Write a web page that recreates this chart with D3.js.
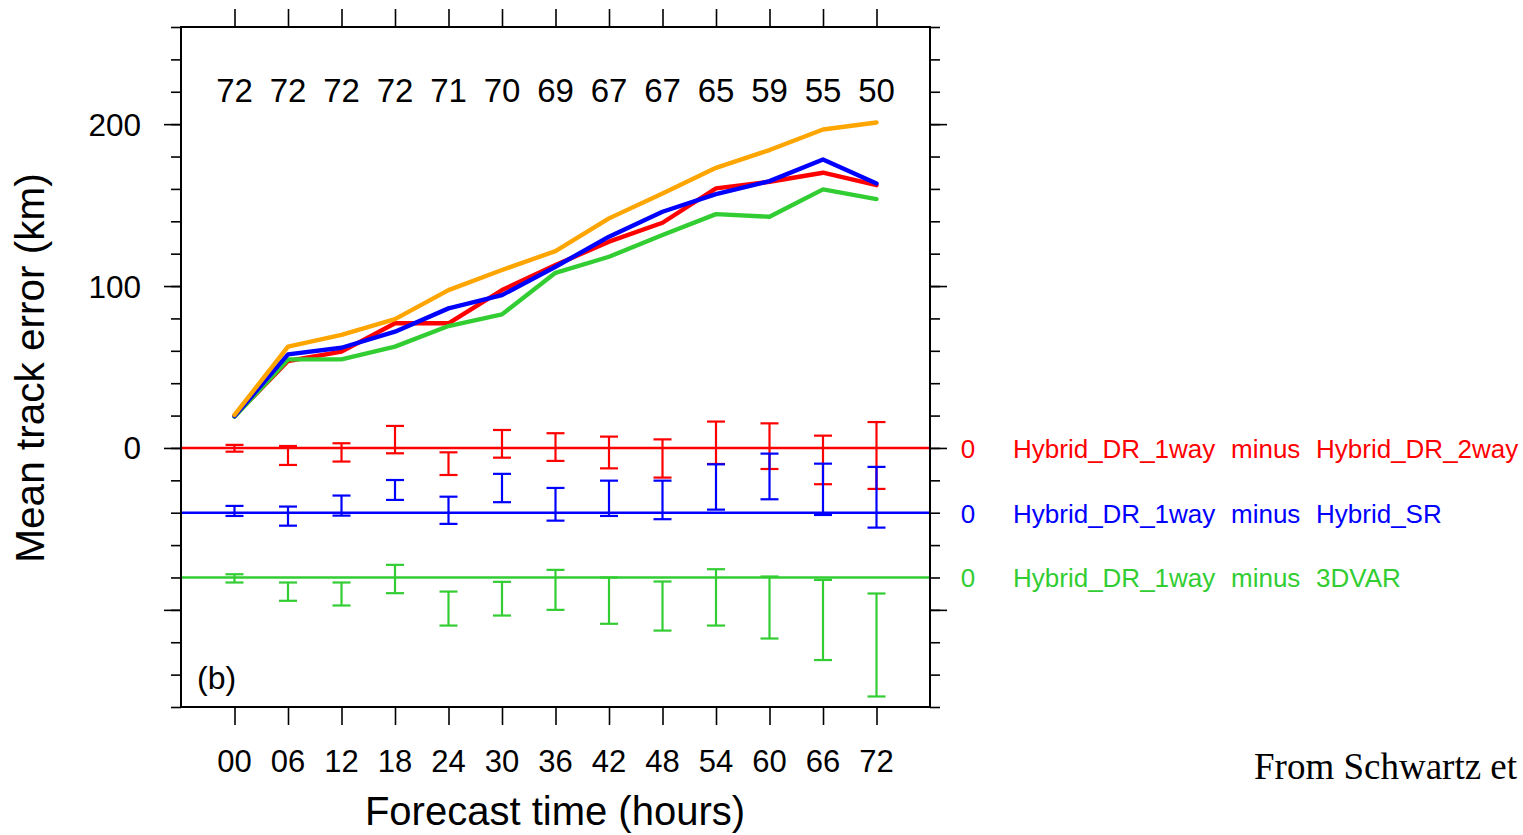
<!DOCTYPE html>
<html><head><meta charset="utf-8">
<script src="https://cdn.jsdelivr.net/npm/d3@7/dist/d3.min.js"></script>
<style>
body{margin:0;background:#fff;}
svg{display:block;}
text{font-family:"Liberation Sans",Arial,Helvetica,sans-serif;}
</style>
</head><body>
<svg id="chart" width="1523" height="835"></svg>
<script>
// ---------------- data ----------------
const hours = [0,6,12,18,24,30,36,42,48,54,60,66,72];
const hourLabels = ["00","06","12","18","24","30","36","42","48","54","60","66","72"];
const sampleCounts = [72,72,72,72,71,70,69,67,67,65,59,55,50];

const orangeTrack = [20.4,62.6,69.8,79.6,97.5,109.9,121.6,141.8,157.2,173.0,184.0,196.7,201.0];
const redTrack    = [19.7,53.7,59.5,77.0,77.0,97.5,113.0,127.4,139.1,160.3,164.4,170.0,162.3];
const blueTrack   = [19.7,57.8,61.9,71.8,86.2,94.4,111.9,130.5,145.9,156.8,164.8,178.2,163.4];
const greenTrack  = [19.3,54.7,54.7,62.6,75.3,82.5,108.2,118.1,131.5,144.4,142.8,159.7,153.7];

const redDiffLow    = [-2.3,-10.5,-8.4,-3.3,-16.7,-6.0,-8.0,-12.6,-18.3,-9.9,-13.0,-22.4,-25.3];
const redDiffHigh   = [1.9,1.2,2.9,13.6,-2.7,11.1,9.1,7.0,5.3,16.3,15.2,7.6,16.0];
const blueDiffLow   = [-2.0,-8.0,-1.8,7.9,-6.9,6.5,-4.9,-2.0,-4.0,1.9,8.3,-1.4,-9.2];
const blueDiffHigh  = [4.2,3.8,10.6,20.2,9.9,24.0,15.3,19.8,19.8,29.9,36.5,30.3,28.3];
const greenDiffLow  = [-3.1,-14.4,-17.3,-9.7,-29.7,-23.5,-20.0,-28.6,-32.8,-29.7,-37.7,-51.0,-73.5];
const greenDiffHigh = [2.0,-3.1,-3.1,7.8,-8.7,-2.7,4.7,0.0,-2.5,5.1,0.6,-1.5,-9.9];

const diffOffsets = [0,-40,-80];
const diffZeroLabels = ["0","0","0"];
const diffNames = [
  ["Hybrid_DR_1way","minus","Hybrid_DR_2way"],
  ["Hybrid_DR_1way","minus","Hybrid_SR"],
  ["Hybrid_DR_1way","minus","3DVAR"]
];
const yMajorTicks = [-100,0,100,200];
const yTickLabels = [null,"0","100","200"];
const yMinorTicks = d3.range(-160,261,20);

// ---------------- layout ----------------
const svg = d3.select("#chart");
const L = 181, R = 930, T = 27, B = 707;
const x = d3.scaleLinear().domain([-6,78]).range([L,R]);
const y = d3.scaleLinear().domain([-160,260]).range([B,T]);

const C = {orange:"#ffa500", red:"#ff0000", blue:"#0000ff", green:"#32cd32"};

// ---------------- axes ----------------
function tickAxis(axisGen, tx, ty){
  const g = svg.append("g").attr("transform",`translate(${tx},${ty})`).call(axisGen);
  g.select(".domain").remove();
  g.selectAll("line").attr("stroke","#000").attr("stroke-width",1.6);
  g.selectAll("text").remove();
  return g;
}
tickAxis(d3.axisLeft(y).tickValues(yMinorTicks).tickSize(10), L, 0);
tickAxis(d3.axisLeft(y).tickValues(yMajorTicks).tickSize(17), L, 0);
tickAxis(d3.axisRight(y).tickValues(yMinorTicks).tickSize(10), R, 0);
tickAxis(d3.axisRight(y).tickValues(yMajorTicks).tickSize(17), R, 0);
tickAxis(d3.axisTop(x).tickValues(hours).tickSize(18), 0, T);
tickAxis(d3.axisBottom(x).tickValues(hours).tickSize(18), 0, B);

// y tick labels
svg.append("g").selectAll("text").data(yMajorTicks.map((v,i)=>({v,l:yTickLabels[i]})).filter(d=>d.l))
  .join("text")
  .attr("x",141).attr("y",d=>y(d.v)+11.5)
  .attr("text-anchor","end").attr("font-size",31.5).attr("fill","#000")
  .text(d=>d.l);

// x tick labels
svg.append("g").selectAll("text").data(hours)
  .join("text")
  .attr("x",d=>x(d)).attr("y",772)
  .attr("text-anchor","middle").attr("font-size",31).attr("fill","#000")
  .text((d,i)=>hourLabels[i]);

// sample counts
svg.append("g").selectAll("text").data(hours)
  .join("text")
  .attr("x",d=>x(d)).attr("y",102)
  .attr("text-anchor","middle").attr("font-size",33).attr("fill","#000")
  .text((d,i)=>sampleCounts[i]);

// axis titles
svg.append("text")
  .attr("transform","translate(44,368) rotate(-90)")
  .attr("text-anchor","middle").attr("font-size",40.5).attr("fill","#000")
  .text("Mean track error (km)");
svg.append("text")
  .attr("x",555).attr("y",825)
  .attr("text-anchor","middle").attr("font-size",40).attr("fill","#000")
  .text("Forecast time (hours)");

// ---------------- baselines & error bars ----------------
const diffSeries = [
  {color:C.red,   low:redDiffLow,   high:redDiffHigh},
  {color:C.blue,  low:blueDiffLow,  high:blueDiffHigh},
  {color:C.green, low:greenDiffLow, high:greenDiffHigh}
];
diffSeries.forEach((s,k)=>{
  const off = diffOffsets[k];
  const g = svg.append("g");
  g.append("line")
    .attr("x1",L).attr("x2",R).attr("y1",y(off)).attr("y2",y(off))
    .attr("stroke",s.color).attr("stroke-width",2.6);
  const bars = hours.map((h,i)=>({h, lo:off+s.low[i], hi:off+s.high[i]}));
  const cap = 9;
  g.selectAll("line.v").data(bars).join("line").attr("class","v")
    .attr("x1",d=>x(d.h)).attr("x2",d=>x(d.h))
    .attr("y1",d=>y(d.lo)).attr("y2",d=>y(d.hi))
    .attr("stroke",s.color).attr("stroke-width",2.2);
  g.selectAll("line.t").data(bars).join("line").attr("class","t")
    .attr("x1",d=>x(d.h)-cap).attr("x2",d=>x(d.h)+cap)
    .attr("y1",d=>y(d.hi)).attr("y2",d=>y(d.hi))
    .attr("stroke",s.color).attr("stroke-width",2.2);
  g.selectAll("line.b").data(bars).join("line").attr("class","b")
    .attr("x1",d=>x(d.h)-cap).attr("x2",d=>x(d.h)+cap)
    .attr("y1",d=>y(d.lo)).attr("y2",d=>y(d.lo))
    .attr("stroke",s.color).attr("stroke-width",2.2);

  // right-side labels
  const ty = y(off)+10;
  svg.append("text").attr("x",968).attr("y",ty).attr("text-anchor","middle")
    .attr("font-size",26).attr("fill",s.color).text(diffZeroLabels[k]);
  const xs = [1013,1231,1316];
  diffNames[k].forEach((t,j)=>{
    svg.append("text").attr("x",xs[j]).attr("y",ty)
      .attr("font-size",26).attr("fill",s.color).text(t);
  });
});

// ---------------- track error curves ----------------
const line = d3.line().x(d=>x(d[0])).y(d=>y(d[1]));
const tracks = [
  {color:C.red,    v:redTrack},
  {color:C.green,  v:greenTrack},
  {color:C.blue,   v:blueTrack},
  {color:C.orange, v:orangeTrack}
];
tracks.forEach(t=>{
  svg.append("path")
    .attr("d", line(hours.map((h,i)=>[h,t.v[i]])))
    .attr("fill","none").attr("stroke",t.color).attr("stroke-width",4.4)
    .attr("stroke-linejoin","round").attr("stroke-linecap","round");
});

// frame
svg.append("rect").attr("x",L).attr("y",T).attr("width",R-L).attr("height",B-T)
  .attr("fill","none").attr("stroke","#000").attr("stroke-width",2);

// panel label
svg.append("text").attr("x",197).attr("y",689).attr("font-size",32).attr("fill","#000").text("(b)");

// source note
svg.append("text").attr("x",1254).attr("y",779)
  .attr("font-size",37).attr("fill","#000")
  .style("font-family","'Liberation Serif','Times New Roman',serif")
  .text("From Schwartz et");
</script>
</body></html>
